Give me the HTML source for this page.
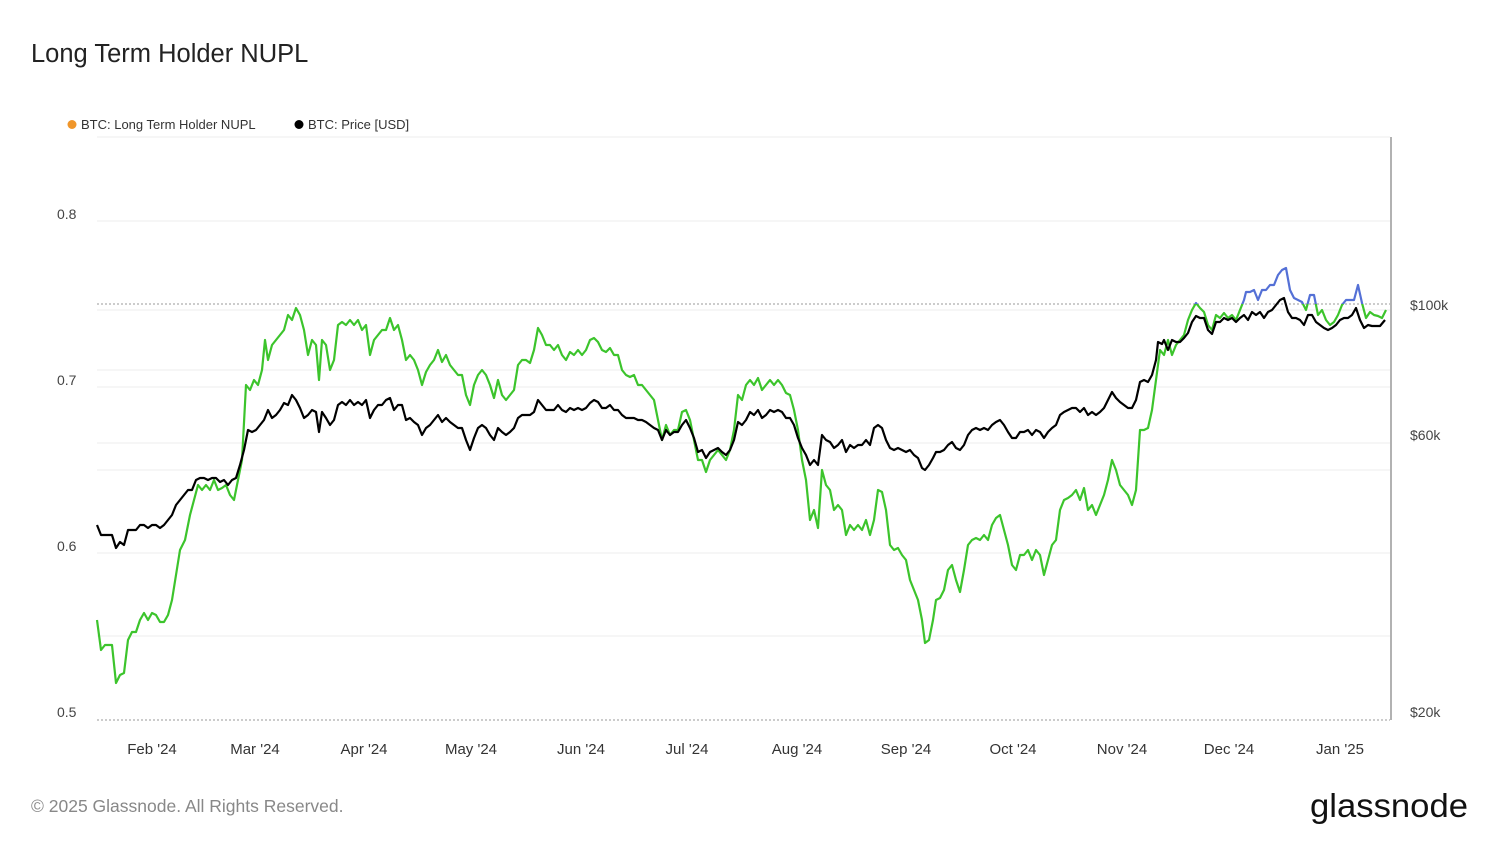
<!DOCTYPE html>
<html><head><meta charset="utf-8"><style>
body{margin:0;background:#fff;width:1500px;height:844px;overflow:hidden;font-family:"Liberation Sans",sans-serif}
</style></head><body>
<svg width="1500" height="844" xmlns="http://www.w3.org/2000/svg" font-family="Liberation Sans, sans-serif">
<text x="31" y="62" font-size="25.5" fill="#222">Long Term Holder NUPL</text>
<circle cx="72" cy="124.5" r="4.5" fill="#f0962a"/>
<text x="81" y="129" font-size="13" fill="#333">BTC: Long Term Holder NUPL</text>
<circle cx="299" cy="124.5" r="4.5" fill="#000"/>
<text x="308" y="129" font-size="13" fill="#333">BTC: Price [USD]</text>
<g stroke="#eee" stroke-width="1">
<line x1="97" y1="137" x2="1390" y2="137"/>
<line x1="97" y1="221" x2="1390" y2="221"/>
<line x1="97" y1="310" x2="1390" y2="310"/>
<line x1="97" y1="370" x2="1390" y2="370"/>
<line x1="97" y1="387" x2="1390" y2="387"/>
<line x1="97" y1="443" x2="1390" y2="443"/>
<line x1="97" y1="470" x2="1390" y2="470"/>
<line x1="97" y1="553" x2="1390" y2="553"/>
<line x1="97" y1="636" x2="1390" y2="636"/>
</g>
<line x1="97" y1="304" x2="1390" y2="304" stroke="#999" stroke-dasharray="2,2"/>
<line x1="97" y1="720" x2="1390" y2="720" stroke="#999" stroke-dasharray="2,2"/>
<line x1="1391" y1="137" x2="1391" y2="720" stroke="#999" stroke-width="1.5"/>
<g font-size="14" fill="#444">
<text x="57" y="219">0.8</text><text x="57" y="385">0.7</text><text x="57" y="551">0.6</text><text x="57" y="717">0.5</text>
<text x="1410" y="310">$100k</text><text x="1410" y="440">$60k</text><text x="1410" y="717">$20k</text>
</g>
<g font-size="15" fill="#333" text-anchor="middle">
<text x="152" y="754">Feb '24</text><text x="255" y="754">Mar '24</text><text x="364" y="754">Apr '24</text><text x="471" y="754">May '24</text><text x="581" y="754">Jun '24</text><text x="687" y="754">Jul '24</text><text x="797" y="754">Aug '24</text><text x="906" y="754">Sep '24</text><text x="1013" y="754">Oct '24</text><text x="1122" y="754">Nov '24</text><text x="1229" y="754">Dec '24</text><text x="1340" y="754">Jan '25</text>
</g>
<defs>
<clipPath id="below"><rect x="0" y="304" width="1500" height="500"/></clipPath>
<clipPath id="above"><rect x="0" y="0" width="1500" height="304"/></clipPath>
<polyline id="g" fill="none" stroke-width="2.2" stroke-linejoin="round" points="97,620 101,650 105,645 112,645 116,683 120,675 124,673 128,640 132,632 136,632 140,620 144,613 148,620 152,613 156,615 160,622 164,622 168,615 172,600 176,575 180,550 185,540 190,515 194,500 198,485 202,490 206,485 210,490 214,480 218,490 222,488 226,485 230,495 234,500 238,480 242,460 246,385 250,390 254,380 258,385 262,370 265,340 268,360 272,345 276,340 280,335 284,330 288,315 292,320 296,308 300,315 304,330 308,355 312,340 316,345 319,380 322,340 326,345 330,370 334,360 338,325 342,322 346,325 350,320 354,325 358,320 362,330 366,325 370,355 374,340 378,335 382,330 386,330 390,318 394,330 398,325 402,340 406,360 410,355 414,360 418,370 422,385 426,372 430,365 434,360 438,350 442,362 446,355 450,365 454,370 458,375 462,375 466,395 470,405 474,385 478,375 482,370 486,375 490,385 494,398 498,380 502,395 506,400 510,395 514,390 518,365 522,360 526,360 530,363 534,350 538,328 542,335 546,345 550,345 554,350 558,345 562,355 566,360 570,352 574,355 578,350 582,355 586,350 590,340 594,338 598,342 602,350 606,352 610,348 614,355 618,355 622,370 626,375 630,377 634,375 638,385 642,385 646,390 650,395 654,400 658,420 662,440 666,425 670,435 674,430 678,430 682,412 686,410 690,420 694,440 698,460 702,460 706,472 710,460 714,455 718,450 722,455 726,460 730,450 734,430 738,395 742,400 746,385 750,380 754,385 758,378 762,390 766,385 770,380 774,385 778,380 782,385 786,393 790,395 794,410 798,430 802,460 806,480 810,520 814,510 818,528 822,470 826,485 830,490 834,510 838,505 842,510 846,535 850,525 854,530 858,525 862,530 866,520 870,535 874,520 878,490 882,492 886,510 890,545 894,550 898,548 902,555 906,560 910,580 914,590 918,600 922,620 925,643 929,640 933,620 936,600 940,598 944,590 948,570 952,565 956,580 960,592 964,570 968,545 972,540 976,538 980,540 984,535 988,540 992,525 996,518 1000,515 1004,530 1008,545 1012,565 1016,570 1020,555 1024,555 1028,550 1032,560 1036,550 1040,555 1044,575 1048,560 1052,545 1056,540 1060,510 1064,500 1068,498 1072,495 1076,490 1080,500 1084,488 1088,510 1092,505 1096,515 1100,505 1104,495 1108,480 1112,460 1116,470 1120,485 1124,490 1128,495 1132,505 1136,490 1140,430 1144,430 1148,428 1152,410 1156,380 1160,350 1164,355 1168,340 1172,355 1176,345 1180,340 1184,335 1188,320 1192,310 1196,303 1200,308 1204,312 1208,325 1212,330 1216,315 1220,318 1224,313 1228,318 1232,315 1236,320 1240,310 1244,300 1246,292 1250,292 1254,290 1258,300 1262,290 1266,290 1270,285 1274,285 1278,275 1282,270 1286,268 1290,290 1294,298 1298,300 1302,302 1306,310 1310,295 1314,295 1318,315 1322,310 1326,320 1330,325 1334,322 1338,315 1342,305 1346,300 1350,300 1354,300 1358,285 1362,303 1366,318 1370,312 1374,315 1378,316 1382,318 1386,310"/>
</defs>
<use href="#g" stroke="#3cc42c" clip-path="url(#below)"/>
<use href="#g" stroke="#5470d6" clip-path="url(#above)"/>
<polyline fill="none" stroke="#000" stroke-width="2.2" stroke-linejoin="round" points="97,525 101,535 105,535 112,535 116,548 120,542 124,545 128,530 132,530 136,530 140,525 144,525 148,528 152,525 156,525 160,528 164,525 168,520 172,515 176,505 180,500 184,495 188,490 192,490 196,480 200,478 204,478 208,480 212,478 216,478 220,482 224,480 228,485 232,480 236,478 240,465 244,450 248,430 252,432 256,430 260,425 264,420 268,410 272,418 276,415 280,410 284,403 288,405 292,395 296,400 300,408 304,418 308,415 312,410 316,412 319,432 322,412 326,418 330,425 334,420 338,405 342,402 346,405 350,400 354,405 358,402 362,405 366,400 370,418 374,410 378,405 382,405 386,400 390,398 394,410 398,405 402,405 406,420 410,418 414,422 418,425 422,435 426,428 430,425 434,420 438,415 442,422 446,418 450,422 454,425 458,428 462,428 466,440 470,450 474,438 478,428 482,425 486,428 490,435 494,440 498,428 502,432 506,435 510,432 514,428 518,418 522,415 526,415 530,415 534,412 538,400 542,405 546,410 550,410 554,410 558,405 562,410 566,412 570,408 574,410 578,408 582,410 586,408 590,403 594,400 598,402 602,408 606,408 610,405 614,410 618,410 622,415 626,418 630,418 634,418 638,420 642,420 646,422 650,425 654,428 658,430 662,440 666,430 670,435 674,432 678,432 682,425 686,420 690,428 694,438 698,452 702,450 706,458 710,452 714,450 718,448 722,452 726,455 730,450 734,440 738,422 742,425 746,420 750,412 754,415 758,410 762,418 766,415 770,410 774,412 778,410 782,412 786,418 790,418 794,425 798,438 802,448 806,455 810,465 814,460 818,465 822,435 826,440 830,442 834,448 838,445 842,440 846,452 850,445 854,448 858,445 862,445 866,440 870,445 874,428 878,425 882,428 886,440 890,448 894,450 898,448 902,450 906,452 910,450 914,455 918,458 922,468 925,470 929,465 933,458 936,452 940,452 944,450 948,445 952,442 956,448 960,450 964,445 968,435 972,430 976,428 980,430 984,428 988,430 992,425 996,422 1000,420 1004,425 1008,432 1012,438 1016,438 1020,432 1024,432 1028,430 1032,435 1036,430 1040,432 1044,438 1048,432 1052,428 1056,425 1060,415 1064,412 1068,410 1072,408 1076,408 1080,412 1084,408 1088,415 1092,412 1096,415 1100,412 1104,408 1108,400 1112,392 1116,398 1120,402 1124,405 1128,408 1132,408 1136,400 1140,382 1144,380 1148,382 1152,375 1156,360 1158,342 1162,344 1164,340 1168,350 1172,340 1176,342 1180,342 1184,338 1188,333 1192,322 1196,316 1200,318 1204,318 1208,330 1212,334 1216,322 1220,322 1224,318 1228,320 1232,318 1236,322 1240,318 1244,315 1248,320 1252,312 1256,315 1260,312 1264,318 1268,312 1272,310 1276,305 1280,300 1284,298 1288,312 1292,318 1296,318 1300,320 1304,325 1308,315 1312,315 1316,322 1320,325 1324,328 1328,330 1332,328 1336,325 1340,320 1344,318 1348,318 1352,315 1356,308 1360,320 1364,328 1368,325 1372,326 1376,326 1380,326 1385,320"/>
<text x="31" y="812" font-size="17.5" fill="#888">© 2025 Glassnode. All Rights Reserved.</text>
<text x="1468" y="817" font-size="33" fill="#111" text-anchor="end" textLength="158" lengthAdjust="spacingAndGlyphs">glassnode</text>
</svg>
</body></html>
